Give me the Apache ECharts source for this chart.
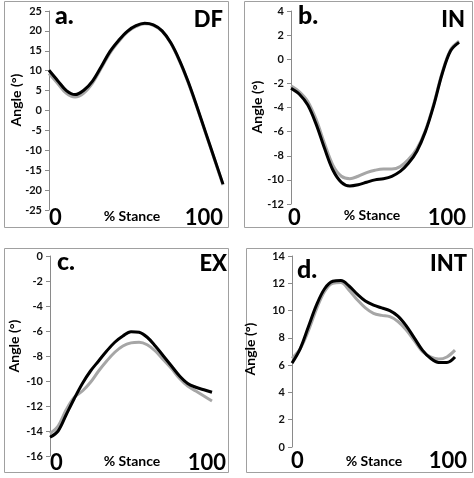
<!DOCTYPE html>
<html><head><meta charset="utf-8">
<script src="https://cdn.jsdelivr.net/npm/echarts@6/dist/echarts.min.js"></script>
<style>html,body{margin:0;padding:0;background:#fff}#c{width:474px;height:478px}</style>
</head><body><div id="c"></div>
<script>
const xPct = [0,5,10,15,20,25,30,35,40,45,50,55,60,65,70,75,80,85,90,95,100];
const dfBlack = [10.1,7.5,5.0,4.0,5.1,7.4,11.0,14.8,17.6,19.9,21.3,21.9,21.5,20.0,17.0,12.6,7.2,1.0,-5.5,-12.0,-18.5];
const dfGray  = [9.3,6.8,4.3,3.4,4.4,6.9,10.6,14.4,17.3,19.7,21.1,21.8,21.4,19.9,16.9,12.4,7.0,0.8,-5.7,-12.2,-18.7];
const inBlack = [-2.4,-2.9,-3.8,-5.4,-7.4,-9.2,-10.2,-10.5,-10.4,-10.2,-10.0,-9.9,-9.7,-9.3,-8.6,-7.6,-6.0,-3.8,-1.2,0.7,1.4];
const inGray  = [-2.2,-2.7,-3.5,-5.0,-7.0,-8.8,-9.7,-9.9,-9.7,-9.4,-9.2,-9.1,-9.1,-8.9,-8.3,-7.4,-5.9,-3.7,-1.1,0.8,1.5];
const exBlack = [-14.5,-14.0,-12.7,-11.4,-10.2,-9.2,-8.4,-7.6,-6.9,-6.4,-6.05,-6.1,-6.5,-7.2,-8.0,-8.8,-9.6,-10.2,-10.5,-10.7,-10.9];
const exGray  = [-14.2,-13.6,-12.3,-11.3,-10.8,-10.1,-9.2,-8.4,-7.7,-7.2,-6.95,-6.9,-7.1,-7.6,-8.3,-9.0,-9.8,-10.4,-10.8,-11.2,-11.6];
const intBlack = [6.15,7.2,8.8,10.4,11.6,12.15,12.2,11.8,11.2,10.7,10.4,10.2,10.0,9.6,8.9,8.0,7.1,6.5,6.2,6.2,6.6];
const intGray  = [6.5,7.2,8.5,10.1,11.4,12.0,12.05,11.5,10.8,10.2,9.8,9.65,9.55,9.2,8.6,7.8,7.0,6.6,6.45,6.6,7.1];
const dfTicks = [-25,-20,-15,-10,-5,0,5,10,15,20,25];
const inTicks = [-12,-10,-8,-6,-4,-2,0,2,4];
const exTicks = [-16,-14,-12,-10,-8,-6,-4,-2,0];
const intTicks = [0,2,4,6,8,10,12,14];
const panelLetters = ['a.','b.','c.','d.'];
const panelNames = ['DF','IN','EX','INT'];
const xStart = '0', xEnd = '100', xTitle = '% Stance', yTitle = 'Angle (°)';

const FONT = 'Lato, "Liberation Sans", sans-serif';
const panels = [
  {black: dfBlack, gray: dfGray, ticks: dfTicks, grid:{left:49, top:11, width:174, height:199},
   frame:[4,1,224,226], letter:[55,16], name:[223,20], ytitle:[16,100], x0:[49,218], x100:[223,218], xt:[132,216]},
  {black: inBlack, gray: inGray, ticks: inTicks, grid:{left:291, top:11, width:168, height:193},
   frame:[244,1,228,226], letter:[298,16], name:[465,20], ytitle:[257,107], x0:[288,218], x100:[466,218], xt:[372,215]},
  {black: exBlack, gray: exGray, ticks: exTicks, grid:{left:50, top:256, width:162, height:200},
   frame:[4,248,224,224], letter:[57,262], name:[227,264], ytitle:[14,346], x0:[50,463], x100:[226,463], xt:[132,461]},
  {black: intBlack, gray: intGray, ticks: intTicks, grid:{left:292, top:256, width:163, height:191},
   frame:[246,248,226,224], letter:[297,270], name:[467,264], ytitle:[250,349], x0:[291,461], x100:[467,461], xt:[374,461]}
];

const grids=[], xAxes=[], yAxes=[], series=[], graphics=[];
panels.forEach((p,i)=>{
  grids.push(Object.assign({containLabel:false}, p.grid));
  xAxes.push({type:'value', gridIndex:i, min:0, max:100, show:false});
  const t = p.ticks;
  yAxes.push({type:'value', gridIndex:i, min:t[0], max:t[t.length-1], interval:t[1]-t[0],
    axisLine:{show:true, lineStyle:{color:'#8a8a8a', width:1}},
    axisTick:{show:true, length:4, lineStyle:{color:'#8a8a8a'}},
    splitLine:{show:false},
    axisLabel:{color:'#111', fontWeight:'bold', fontSize:11, fontFamily:FONT, margin:7}
  });
  series.push({type:'line', xAxisIndex:i, yAxisIndex:i, data:xPct.map((x,k)=>[x,p.gray[k]]),
    smooth:0.35, showSymbol:false, lineStyle:{color:'#a6a6a6', width:3}, z:2});
  series.push({type:'line', xAxisIndex:i, yAxisIndex:i, data:xPct.map((x,k)=>[x,p.black[k]]),
    smooth:0.35, showSymbol:false, lineStyle:{color:'#000', width:3}, z:3});
  const f=p.frame;
  graphics.push({type:'rect', shape:{x:f[0]+0.5,y:f[1]+0.5,width:f[2],height:f[3]}, style:{fill:null, stroke:'#a0a0a0', lineWidth:1}, z:0});
  graphics.push({type:'text', x:p.letter[0], y:p.letter[1], style:{text:panelLetters[i], font:'900 25px '+FONT, fill:'#000', textAlign:'left', textVerticalAlign:'middle'}});
  graphics.push({type:'text', x:p.name[0], y:p.name[1], style:{text:panelNames[i], font:'900 22px '+FONT, fill:'#000', textAlign:'right', textVerticalAlign:'middle'}});
  graphics.push({type:'text', x:p.x0[0], y:p.x0[1], style:{text:xStart, font:'bold 22px '+FONT, fill:'#000', textAlign:'left', textVerticalAlign:'middle'}});
  graphics.push({type:'text', x:p.x100[0], y:p.x100[1], style:{text:xEnd, font:'bold 22px '+FONT, fill:'#000', textAlign:'right', textVerticalAlign:'middle'}});
  graphics.push({type:'text', x:p.xt[0], y:p.xt[1], style:{text:xTitle, font:'bold 14px '+FONT, fill:'#000', textAlign:'center', textVerticalAlign:'middle'}});
  graphics.push({type:'text', x:p.ytitle[0], y:p.ytitle[1], rotation:Math.PI/2, style:{text:yTitle, font:'bold 14px '+FONT, fill:'#000', textAlign:'center', textVerticalAlign:'middle'}});
});

const chart = echarts.init(document.getElementById('c'), null, {renderer:'canvas'});
chart.setOption({animation:false, grid:grids, xAxis:xAxes, yAxis:yAxes, series:series, graphic:graphics});
</script></body></html>
